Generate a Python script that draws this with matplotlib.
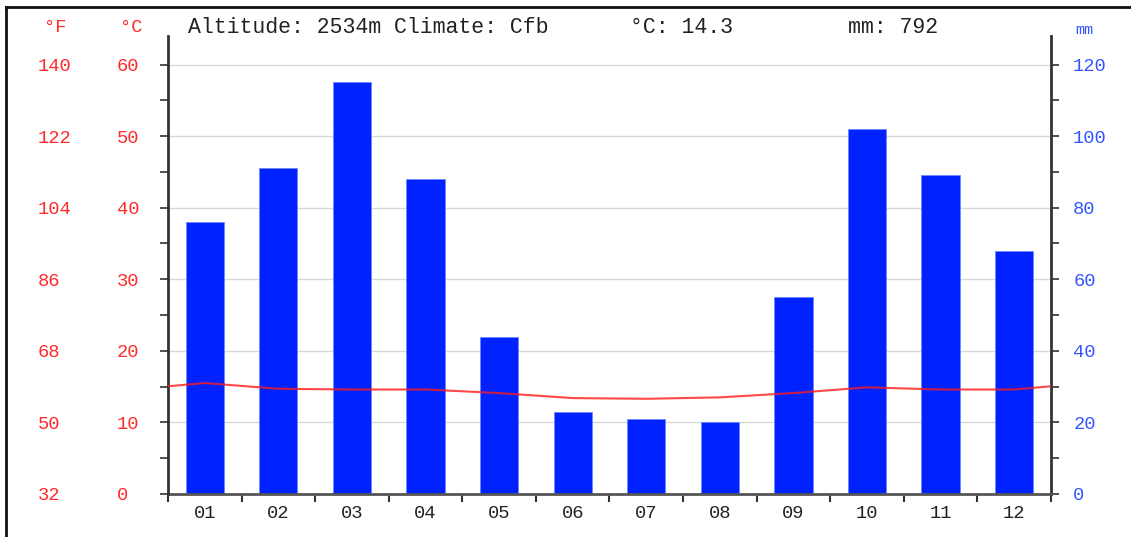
import matplotlib

matplotlib.use("Agg")
import matplotlib.pyplot as plt
import numpy as np
from matplotlib.lines import Line2D

months = ["01", "02", "03", "04", "05", "06", "07", "08", "09", "10", "11", "12"]
precip_mm = [76, 91, 115, 88, 44, 23, 21, 20, 55, 102, 89, 68]
temp_c = [15.5, 14.7, 14.6, 14.6, 14.1, 13.4, 13.3, 13.5, 14.1, 14.9, 14.6, 14.6]
c_ticks = [0, 10, 20, 30, 40, 50, 60]
f_ticks = [32, 50, 68, 86, 104, 122, 140]
mm_ticks = [0, 20, 40, 60, 80, 100, 120]

header = "Altitude: 2534m Climate: Cfb"
mean_c = "°C: 14.3"
total_mm = "mm: 792"

FONT = "Liberation Mono"
RED = "#ff2a2a"
BLUE = "#3355ff"
BAR = "#0022ff"
SPINE = "#333333"
TS = 13.5  # tick label size

plt.rcParams["font.family"] = [FONT, "DejaVu Sans Mono"]

fig = plt.figure(figsize=(11.31, 5.37), dpi=100)
ax = fig.add_axes([0.1485, 0.0801, 0.7807, 0.853])

x = np.arange(1, 13)

# precipitation bars (mm scale, right side)
ax.bar(x, precip_mm, width=0.52, color=BAR, edgecolor="#6f86ff", linewidth=0.6, zorder=2)
ax.set_xlim(0.5, 12.5)
ax.set_ylim(0, 128)
ax.grid(axis="y", color="#d8d8d8", lw=1.0, zorder=0)
ax.set_axisbelow(True)
ax.set_xticks(x)
ax.set_xticklabels(months)
ax.set_xticks(np.arange(0.5, 13, 1), minor=True)
ax.tick_params(axis="x", which="major", length=0, labelsize=TS, labelcolor="#222222", pad=8)
ax.tick_params(axis="x", which="minor", length=6, width=1.5, color=SPINE)

# temperature line (°C scale, left side)
ax2 = ax.twinx()
ax2.set_ylim(0, 64)
xt = np.concatenate([[0], x, [13]])
yt = np.concatenate([[temp_c[-1]], temp_c, [temp_c[0]]])
ax2.plot(xt, yt, color="#ff1a1a", lw=1.5, alpha=0.8, zorder=3)

# right axis: mm
ax.yaxis.tick_right()
ax.set_yticks(mm_ticks)
ax.set_yticks(np.arange(10, 130, 20), minor=True)
ax.tick_params(axis="y", which="both", colors=SPINE, length=6, width=1.2,
               labelcolor=BLUE, labelsize=TS, pad=10)
for s in ("top", "left"):
    ax.spines[s].set_visible(False)
ax.spines["right"].set_color(SPINE)
ax.spines["right"].set_linewidth(2)
ax.spines["bottom"].set_color("#555555")
ax.spines["bottom"].set_linewidth(2)

# left axis: °C (labels left-aligned in a column)
ax2.yaxis.tick_left()
ax2.set_yticks(c_ticks)
ax2.set_yticks(np.arange(5, 65, 10), minor=True)
ax2.tick_params(axis="y", which="both", colors=SPINE, length=6, width=1.2,
                labelcolor=RED, labelsize=TS, pad=30.7)
for lab in ax2.get_yticklabels():
    lab.set_horizontalalignment("left")
for s in ("top", "right", "bottom"):
    ax2.spines[s].set_visible(False)
ax2.spines["left"].set_color(SPINE)
ax2.spines["left"].set_linewidth(2)

# Fahrenheit labels
sec = ax2.secondary_yaxis((38 - 168) / 883,
                          functions=(lambda c: c * 9 / 5 + 32, lambda f: (f - 32) * 5 / 9))
sec.set_yticks(f_ticks)
sec.tick_params(length=0, labelcolor=RED, labelsize=TS, pad=0)
for lab in sec.get_yticklabels():
    lab.set_horizontalalignment("left")
sec.spines["left"].set_visible(False)

# header texts
yh = 1 - 28 / 537
fig.text(55 / 1131, yh, "°F", color=RED, fontsize=TS, ha="center", va="center")
fig.text(131 / 1131, yh, "°C", color=RED, fontsize=TS, ha="center", va="center")
fig.text(188 / 1131, yh, header, color="#222222", fontsize=15.5, ha="left", va="center")
fig.text(630 / 1131, yh, mean_c, color="#222222", fontsize=15.5, ha="left", va="center")
fig.text(848 / 1131, yh, total_mm, color="#222222", fontsize=15.5, ha="left", va="center")
fig.text(1075 / 1131, 1 - 30 / 537, "mm", color=BLUE, fontsize=11, ha="left", va="center")

# outer frame (left and top edges)
fig.add_artist(Line2D([6 / 1131, 6 / 1131], [0, 1 - 7 / 537], color="#111111", lw=2,
                      transform=fig.transFigure))
fig.add_artist(Line2D([6 / 1131, 1], [1 - 7 / 537, 1 - 7 / 537], color="#111111", lw=2,
                      transform=fig.transFigure))

fig.savefig("out.png", dpi=100)
